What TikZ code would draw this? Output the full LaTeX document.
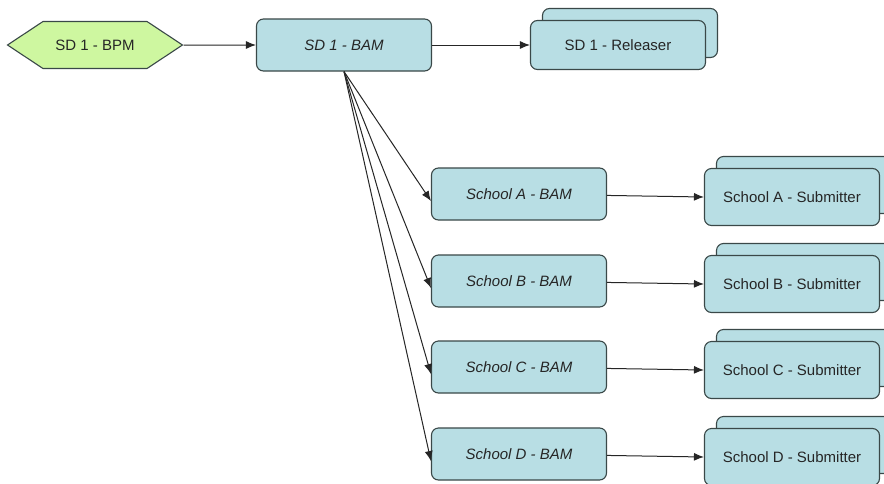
\documentclass[tikz,border=0pt]{standalone}
\usepackage{fontspec}
\setmainfont{Liberation Sans}
\usetikzlibrary{arrows.meta,positioning,shapes.symbols,shadows}

\definecolor{boxblue}{RGB}{184,222,228}
\definecolor{hexgreen}{RGB}{206,247,160}
\definecolor{boxline}{RGB}{58,72,72}

\begin{document}
\begin{tikzpicture}[
    x=1pt, y=-1pt,
    >={Latex[length=10pt,width=8pt]},
    every node/.style={font=\fontsize{15}{18}\selectfont, text=black!85},
    hexnode/.style={signal, signal to=west and east, signal pointer angle=67,
      draw=boxline, fill=hexgreen, line width=1.1pt,
      minimum width=175pt, minimum height=47pt, inner sep=0pt},
    bambox/.style={rectangle, rounded corners=7pt, draw=boxline, fill=boxblue,
      line width=1.1pt, minimum width=175pt, minimum height=52pt,
      font=\fontsize{15}{18}\selectfont\itshape},
    stackbox/.style={rectangle, rounded corners=7pt, draw=boxline, fill=boxblue,
      line width=1.1pt, minimum width=175pt, minimum height=#1,
      copy shadow={shadow xshift=12pt, shadow yshift=12pt, fill=boxblue,
        draw=boxline, line width=1.1pt}},
    stackbox/.default=57pt,
    every edge/.style={draw, ->, line width=1pt, black!85}
  ]
    \clip (0,0) rectangle (884,483);
    \fill[white] (0,0) rectangle (884,483);

    \node[hexnode] (bpm) at (95,45) {SD 1 - BPM};
    \node[bambox] (sdbam) at (344,45) {SD 1 - BAM};
    \node[stackbox=49pt] (rel) at (618,45) {SD 1 - Releaser};

    % school level
    \foreach \s/\y in {A/194, B/281, C/367, D/454} {
      \node[bambox] (bam\s) at (519,\y) {School \s\ - BAM};
      \node[stackbox] (sub\s) at (792,\y+3) {School \s\ - Submitter};
    }

    \path (bpm) edge (sdbam)
          (sdbam) edge (rel);
    \foreach \s in {A,B,C,D} {
      \path (sdbam.south) edge ([yshift=-7pt]bam\s.west)
            (bam\s) edge (sub\s.west);
    }
  \end{tikzpicture}
\end{document}
